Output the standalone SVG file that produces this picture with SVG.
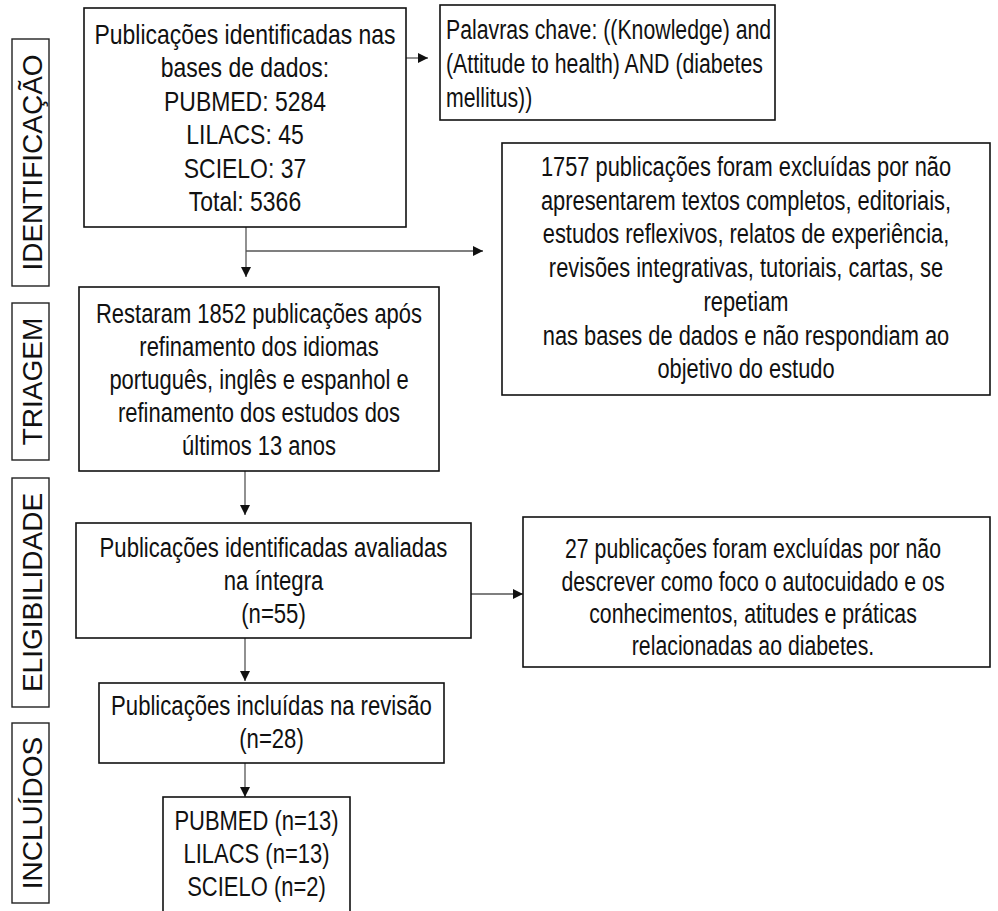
<svg xmlns="http://www.w3.org/2000/svg" width="998" height="911" viewBox="0 0 998 911">
<style>
.bg{fill:#fff}
.box{fill:#fff;stroke:#111;stroke-width:1.6}
.side{fill:#fff;stroke:#222;stroke-width:1.4}
.t{font-family:"Liberation Sans Narrow","Arial Narrow","Liberation Sans",sans-serif;font-size:28px;fill:#111;text-anchor:middle}
.tl{text-anchor:start}
.s{font-family:"Liberation Sans",Arial,sans-serif;font-size:28px;fill:#111;text-anchor:middle}
.c{fill:none;stroke:#555;stroke-width:1.3}
</style>
<defs>
<marker id="ah" markerUnits="userSpaceOnUse" markerWidth="12" markerHeight="10" refX="10" refY="5" orient="auto">
<path d="M0,0 L10,5 L0,10 Z" fill="#111"/>
</marker>
</defs>
<rect class="bg" x="0" y="0" width="998" height="911"/>

<g id="lbl-identificacao">
<rect class="side" x="12" y="39" width="37" height="247"/>
<text class="s" transform="translate(42,162.5) rotate(-90)">IDENTIFICAÇÃO</text>
</g>
<g id="lbl-triagem">
<rect class="side" x="12" y="303" width="37" height="157"/>
<text class="s" transform="translate(42,381.5) rotate(-90)">TRIAGEM</text>
</g>
<g id="lbl-elegibilidade">
<rect class="side" x="12" y="478" width="37" height="229"/>
<text class="s" transform="translate(42,592.5) rotate(-90)">ELIGIBILIDADE</text>
</g>
<g id="lbl-incluidos">
<rect class="side" x="12" y="723" width="37" height="180"/>
<text class="s" transform="translate(42,813) rotate(-90)">INCLUÍDOS</text>
</g>

<g id="connectors">
<path class="c" d="M406,58 H428" marker-end="url(#ah)"/>
<path class="c" d="M246,227 V277" marker-end="url(#ah)"/>
<path class="c" d="M246,251 H483" marker-end="url(#ah)"/>
<path class="c" d="M245,471 V515" marker-end="url(#ah)"/>
<path class="c" d="M471,594 H523" marker-end="url(#ah)"/>
<path class="c" d="M245,638 V681" marker-end="url(#ah)"/>
<path class="c" d="M245,763 V797" marker-end="url(#ah)"/>
</g>

<g id="n-identificadas">
<rect class="box" x="84" y="8" width="322" height="219"/>
<g transform="translate(245,0) scale(0.82,1)">
<text class="t" x="0" y="44">Publicações identificadas nas</text>
<text class="t" x="0" y="77">bases de dados:</text>
<text class="t" x="0" y="111">PUBMED: 5284</text>
<text class="t" x="0" y="144">LILACS: 45</text>
<text class="t" x="0" y="178">SCIELO: 37</text>
<text class="t" x="0" y="211">Total: 5366</text>
</g>
</g>

<g id="n-palavras">
<rect class="box" x="440" y="5" width="335" height="115"/>
<g transform="translate(446,0) scale(0.76,1)">
<text class="t tl" x="0" y="39">Palavras chave: ((Knowledge) and</text>
<text class="t tl" x="0" y="73">(Attitude to health) AND (diabetes</text>
<text class="t tl" x="0" y="107">mellitus))</text>
</g>
</g>

<g id="n-excluidas1757">
<rect class="box" x="502" y="143" width="488" height="252"/>
<g transform="translate(746,0) scale(0.78,1)">
<text class="t" x="0" y="176">1757 publicações foram excluídas por não</text>
<text class="t" x="0" y="210">apresentarem textos completos, editoriais,</text>
<text class="t" x="0" y="243">estudos reflexivos, relatos de experiência,</text>
<text class="t" x="0" y="277">revisões integrativas, tutoriais, cartas, se</text>
<text class="t" x="0" y="311">repetiam</text>
<text class="t" x="0" y="345">nas bases de dados e não respondiam ao</text>
<text class="t" x="0" y="378">objetivo do estudo</text>
</g>
</g>

<g id="n-restaram">
<rect class="box" x="79" y="287" width="360" height="184"/>
<g transform="translate(259,0) scale(0.785,1)">
<text class="t" x="0" y="323">Restaram 1852 publicações após</text>
<text class="t" x="0" y="356">refinamento dos idiomas</text>
<text class="t" x="0" y="389">português, inglês e espanhol e</text>
<text class="t" x="0" y="422">refinamento dos estudos dos</text>
<text class="t" x="0" y="455">últimos 13 anos</text>
</g>
</g>

<g id="n-avaliadas">
<rect class="box" x="76" y="523" width="395" height="115"/>
<g transform="translate(273.5,0) scale(0.79,1)">
<text class="t" x="0" y="557">Publicações identificadas avaliadas</text>
<text class="t" x="0" y="590">na íntegra</text>
<text class="t" x="0" y="623">(n=55)</text>
</g>
</g>

<g id="n-excluidas27">
<rect class="box" x="523" y="517" width="467" height="150"/>
<g transform="translate(753,0) scale(0.76,1)">
<text class="t" x="0" y="558">27 publicações foram excluídas por não</text>
<text class="t" x="0" y="591">descrever como foco o autocuidado e os</text>
<text class="t" x="0" y="623">conhecimentos, atitudes e práticas</text>
<text class="t" x="0" y="655">relacionadas ao diabetes.</text>
</g>
</g>

<g id="n-incluidas">
<rect class="box" x="99" y="683" width="345" height="80"/>
<g transform="translate(271.5,0) scale(0.79,1)">
<text class="t" x="0" y="715">Publicações incluídas na revisão</text>
<text class="t" x="0" y="748">(n=28)</text>
</g>
</g>

<g id="n-bases">
<rect class="box" x="163" y="797" width="187" height="130"/>
<g transform="translate(256.5,0) scale(0.785,1)">
<text class="t" x="0" y="830">PUBMED (n=13)</text>
<text class="t" x="0" y="863">LILACS (n=13)</text>
<text class="t" x="0" y="896">SCIELO (n=2)</text>
</g>
</g>
</svg>
